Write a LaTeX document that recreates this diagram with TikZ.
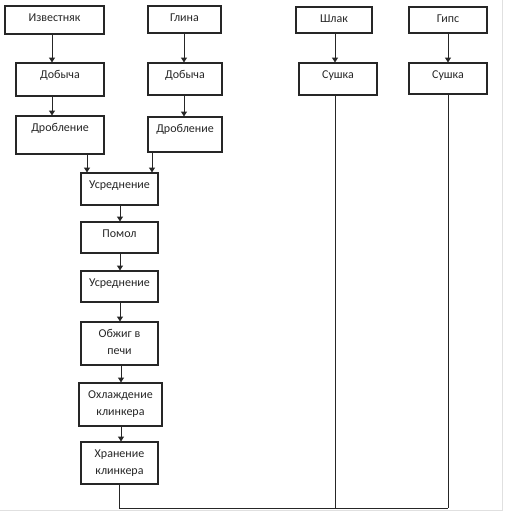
\documentclass[tikz,border=0pt]{standalone}
\usepackage{fontspec}
\setmainfont{Carlito}
\usetikzlibrary{fit,arrows.meta}
\begin{document}
\begin{tikzpicture}[x=0.75pt,y=-0.75pt,
  box/.style={draw=black!85, line width=0.8pt, rectangle, inner sep=0pt},
  lbl/.style={anchor=north, inner sep=0pt, yshift=-6pt, align=center,
    font=\fontsize{9pt}{12.75pt}\selectfont, text=black!85},
  arr/.style={draw=black!85, line width=0.75pt, -{Triangle[length=3.6pt,width=4.4pt]}},
  ln/.style={draw=black!85, line width=0.75pt},
  frame/.style={draw=black!12, line width=0.75pt}]
\useasboundingbox (0,0) rectangle (504,511);
% frame of the sheet
\coordinate (fa) at (502.5,0);
\coordinate (fb) at (502.5,510);
\coordinate (fc) at (0,510);
\draw[frame] (fa) -- (fb) -- (fc);
% left column
\node[box, fit={(5,6) (104,34)}, label={[lbl]north:Известняк}] (izv) {};
\node[box, fit={(16,63) (104,96)}, label={[lbl]north:Добыча}] (dob1) {};
\node[box, fit={(16,116) (104,154)}, label={[lbl]north:Дробление}] (drob1) {};
% clay column
\node[box, fit={(148,6) (221,33)}, label={[lbl]north:Глина}] (glina) {};
\node[box, fit={(148,63) (222,95)}, label={[lbl]north:Добыча}] (dob2) {};
\node[box, fit={(148,117) (222,152)}, label={[lbl]north:Дробление}] (drob2) {};
% slag and gypsum
\node[box, fit={(296,7) (372,33)}, label={[lbl]north:Шлак}] (shlak) {};
\node[box, fit={(299,63) (377,95)}, label={[lbl]north:Сушка}] (sush1) {};
\node[box, fit={(409,7) (487,33)}, label={[lbl]north:Гипс}] (gips) {};
\node[box, fit={(409,63) (487,94)}, label={[lbl]north:Сушка}] (sush2) {};
% main chain
\node[box, fit={(81,173) (158,205)}, label={[lbl]north:Усреднение}] (usr1) {};
\node[box, fit={(81,222) (158,253)}, label={[lbl]north:Помол}] (pomol) {};
\node[box, fit={(81,271) (158,302)}, label={[lbl]north:Усреднение}] (usr2) {};
\node[box, fit={(81,322) (158,365)}, label={[lbl]north:Обжиг в\\печи}] (obzh) {};
\node[box, fit={(79,383) (162,426)}, label={[lbl]north:Охлаждение\\клинкера}] (okhl) {};
\node[box, fit={(81,442) (158,484)}, label={[lbl]north:Хранение\\клинкера}] (khran) {};
% arrows
\draw[arr] (52,0 |- izv.south) -- (52,0 |- dob1.north);
\draw[arr] (52,0 |- dob1.south) -- (52,0 |- drob1.north);
\draw[arr] (87,0 |- drob1.south) -- (87,0 |- usr1.north);
\draw[arr] (184,0 |- glina.south) -- (184,0 |- dob2.north);
\draw[arr] (184,0 |- dob2.south) -- (184,0 |- drob2.north);
\draw[arr] (152,0 |- drob2.south) -- (152,0 |- usr1.north);
\draw[arr] (335,0 |- shlak.south) -- (335,0 |- sush1.north);
\draw[arr] (448,0 |- gips.south) -- (448,0 |- sush2.north);
\draw[arr] (120,0 |- usr1.south) -- (120,0 |- pomol.north);
\draw[arr] (120,0 |- pomol.south) -- (120,0 |- usr2.north);
\draw[arr] (120,0 |- usr2.south) -- (120,0 |- obzh.north);
\draw[arr] (121,0 |- obzh.south) -- (121,0 |- okhl.north);
\draw[arr] (121,0 |- okhl.south) -- (121,0 |- khran.north);
% collector line
\coordinate (c1) at (119,508);
\coordinate (c2) at (335,508);
\coordinate (c3) at (448,508);
\draw[ln] (119,0 |- khran.south) -- (c1) -- (c3);
\draw[ln] (335,0 |- sush1.south) -- (c2);
\draw[ln] (448,0 |- sush2.south) -- (c3);
\end{tikzpicture}
\end{document}
